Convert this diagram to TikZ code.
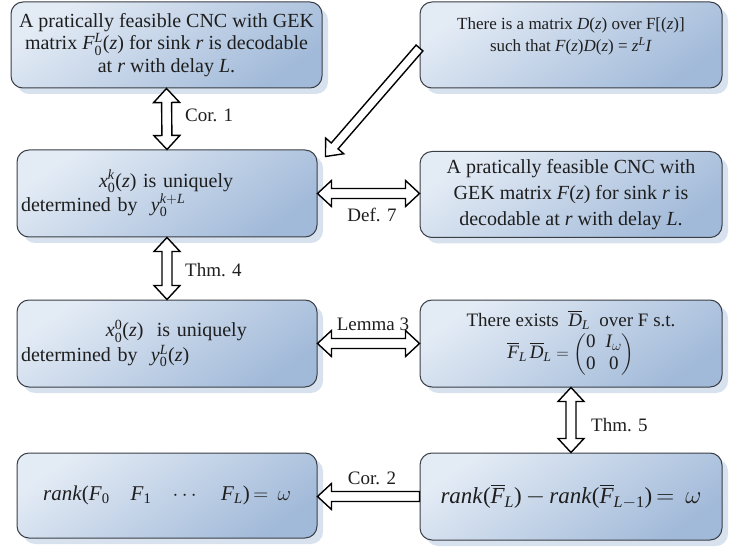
\documentclass[tikz,border=0pt]{standalone}
\usepackage{fontspec}
\usepackage{amsmath}
\setmainfont{Liberation Serif}
\usetikzlibrary{calc,shadows}
\definecolor{boxlight}{HTML}{E3EBF5}
\definecolor{boxdark}{HTML}{A2BAD9}
\definecolor{boxline}{HTML}{3A3F46}
\definecolor{shadowc}{HTML}{D8E2EE}
\definecolor{txt}{HTML}{1E1E1E}
\newcommand\ital[1]{\textit{#1}}
\newcommand\mi[1]{\text{\itshape #1}}
\newcommand\arsw{5pt}
\newcommand\arhw{13pt}
\newcommand\arhl{14pt}
\newcommand\dblockarrow[2]{%
  \draw[blockarrow] (#1) -- ($(#1)!\arhl!(#2)!\arhw!90:(#2)$) -- ($(#1)!\arhl!(#2)!\arsw!90:(#2)$)
   -- ($(#2)!\arhl!(#1)!\arsw!-90:(#1)$) -- ($(#2)!\arhl!(#1)!\arhw!-90:(#1)$) -- (#2)
   -- ($(#2)!\arhl!(#1)!\arhw!90:(#1)$) -- ($(#2)!\arhl!(#1)!\arsw!90:(#1)$)
   -- ($(#1)!\arhl!(#2)!\arsw!-90:(#2)$) -- ($(#1)!\arhl!(#2)!\arhw!-90:(#2)$) -- cycle;}
\newcommand\sblockarrow[2]{%
  \draw[blockarrow] ($(#1)!\arsw!90:(#2)$) -- ($(#2)!\arhl!(#1)!\arsw!-90:(#1)$)
   -- ($(#2)!\arhl!(#1)!\arhw!-90:(#1)$) -- (#2)
   -- ($(#2)!\arhl!(#1)!\arhw!90:(#1)$) -- ($(#2)!\arhl!(#1)!\arsw!90:(#1)$)
   -- ($(#1)!\arsw!-90:(#2)$) -- cycle;}
\tikzset{
  box/.style={rectangle, rounded corners=12pt, draw=boxline, line width=1pt,
    top color=boxlight, bottom color=boxdark, shading angle=35,
    drop shadow={shadow xshift=6pt, shadow yshift=-6pt, fill=shadowc, opacity=1},
    inner sep=0pt, align=center, text=txt, font=\fontsize{20}{23}\selectfont},
  blockarrow/.style={draw=black, fill=white, line width=1.4pt, line join=miter},
  lab/.style={font=\fontsize{19}{22}\selectfont, text=txt, inner sep=0pt}
}
\begin{document}
\begin{tikzpicture}[x=1pt,y=-1pt]
\useasboundingbox (0,0) rectangle (739,548);
% boxes
\node[box, minimum width=311pt, minimum height=86pt, font=\fontsize{20}{22.5}\selectfont] (b1) at (166.5,45)
  {A pratically feasible CNC with GEK\\
   matrix \ital{F}$_{\text{0}}^{\mi{L}}$(\ital{z}) for sink \ital{r} is decodable\\
   at \ital{r} with delay \ital{L}.};
\node[box, minimum width=302pt, minimum height=86pt, text depth=20pt,
  font=\fontsize{17}{22}\selectfont] (b2) at (571,45)
  {There is a matrix \ital{D}(\ital{z}) over F[(\ital{z})]\\
   such that \ital{F}(\ital{z})\ital{D}(\ital{z}) = \ital{z}$^{\mi{L}}$\ital{I}};
\node[box, minimum width=300pt, minimum height=87pt, align=left, text width=292pt] (b3) at (167,193.5)
  {\hspace*{78pt}\ital{x}$_{\text{0}}^{\mi{k}}$(\ital{z}) is uniquely\\
   determined by \ \ital{y}$_{\text{0}}^{\mi{k}+\mi{L}}$};
\node[box, minimum width=302pt, minimum height=86pt, font=\fontsize{20}{26}\selectfont] (b4) at (571,194.5)
  {A pratically feasible CNC with\\
   GEK matrix \ital{F}(\ital{z}) for sink \ital{r} is\\
   decodable at \ital{r} with delay \ital{L}.};
\node[box, minimum width=300pt, minimum height=87pt, align=left, text width=292pt,
  font=\fontsize{20}{25}\selectfont] (b5) at (167,343.5)
  {\hspace*{85pt}\ital{x}$_{\text{0}}^{\text{0}}$(\ital{z}) \ is uniquely\\
   determined by \ \ital{y}$_{\text{0}}^{\mi{L}}$(\ital{z})};
\node[box, minimum width=302pt, minimum height=87pt, font=\fontsize{19}{26}\selectfont] (b6) at (571,343.5)
  {There exists \ $\overline{\mi{D}}_{\mi{L}}$ \ over F s.t.\\[2pt]
   $\overline{\mi{F}}_{\mi{L}}\,\overline{\mi{D}}_{\mi{L}}=
   \renewcommand\arraystretch{0.85}\begin{pmatrix}\text{0}&\mi{I}_{\omega}\\ \text{0}&\text{0}\end{pmatrix}$};
\node[box, minimum width=300pt, minimum height=85pt, font=\fontsize{21}{24}\selectfont] (b7) at (167,495.5)
  {\ital{rank}(\ital{F}$_{\text{0}}$\quad \ital{F}$_{\text{1}}$\quad$\cdots$\quad \ital{F}$_{\mi{L}}$)$\,=\,\omega$};
\node[box, minimum width=302pt, minimum height=87pt, font=\fontsize{23}{26}\selectfont] (b8) at (571,496.5)
  {\ital{rank}($\overline{\mi{F}}_{\mi{L}}$)$\,-\,$\ital{rank}($\overline{\mi{F}}_{\mi{L}-\text{1}}$)$\,=\,\omega$};
% connector end points
\coordinate (d7a) at (b3.east);
\coordinate (d7b) at (b3.east -| b4.west);
\coordinate (l3a) at (b5.east);
\coordinate (l3b) at (b5.east -| b6.west);
\coordinate (c2a) at (b8.west);
\coordinate (c2b) at (b8.west -| b7.east);
\coordinate (dgtail) at ($(b2.west)+(0,3)$);
\coordinate (dgtip) at ($(b3.north east)+(8,7)$);
% arrows
\dblockarrow{b1.south}{b3.north}
\dblockarrow{b3.south}{b5.north}
\dblockarrow{d7a}{d7b}
\dblockarrow{l3a}{l3b}
\dblockarrow{b6.south}{b8.north}
\sblockarrow{c2a}{c2b}
\renewcommand\arsw{4.5pt}
\renewcommand\arhw{12pt}
\sblockarrow{dgtail}{dgtip}
% labels
\node[lab, anchor=west] (lc1) at (185,115) {Cor. 1};
\node[lab, anchor=west] (lt4) at (185,270) {Thm. 4};
\node[lab] (ld7) at (372,215) {Def. 7};
\node[lab] (ll3) at (373,324) {Lemma 3};
\node[lab, anchor=west] (lt5) at (591,425) {Thm. 5};
\node[lab] (lc2) at (372,478) {Cor. 2};
\end{tikzpicture}
\end{document}
